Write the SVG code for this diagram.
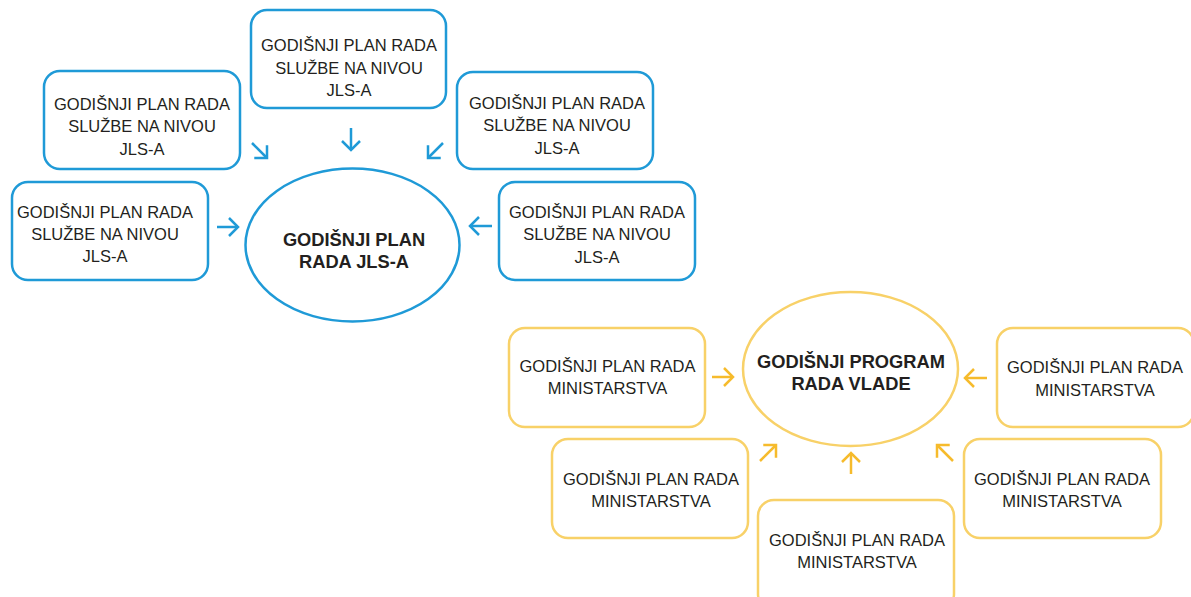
<svg xmlns="http://www.w3.org/2000/svg" width="1191" height="597" viewBox="0 0 1191 597">
  <defs>
    <style>
      .bg { fill: #ffffff; }
      .box-blue { fill: #ffffff; stroke: #1f9ad7; stroke-width: 2.5; }
      .box-yellow { fill: #ffffff; stroke: #f8d168; stroke-width: 2.5; }
      .lbl { font-family: "Liberation Sans", Arial, sans-serif; font-size: 16.5px; fill: #231f20; text-anchor: middle; }
      .hub { font-family: "Liberation Sans", Arial, sans-serif; font-size: 18.3px; font-weight: 700; fill: #231f20; text-anchor: middle; }
      .arr-blue { fill: none; stroke: #1f9ad7; stroke-width: 2.5; marker-end: url(#head-blue); }
      .arr-yellow { fill: none; stroke: #f6bb2c; stroke-width: 2.5; marker-end: url(#head-yellow); }
    </style>
    <marker id="head-blue" markerUnits="userSpaceOnUse" viewBox="-12 -12 16 24" refX="0" refY="0" markerWidth="16" markerHeight="24" orient="auto" overflow="visible">
      <path d="M-9,-9 L0,0 L-9,9" fill="none" stroke="#1f9ad7" stroke-width="2.5"/>
    </marker>
    <marker id="head-yellow" markerUnits="userSpaceOnUse" viewBox="-12 -12 16 24" refX="0" refY="0" markerWidth="16" markerHeight="24" orient="auto" overflow="visible">
      <path d="M-9,-9 L0,0 L-9,9" fill="none" stroke="#f6bb2c" stroke-width="2.5"/>
    </marker>
  </defs>

  <rect class="bg" x="0" y="0" width="1191" height="597"/>

  <!-- Local-government cluster -->
  <g id="jls-hub">
    <ellipse class="box-blue" cx="352.5" cy="245" rx="107" ry="76.5"/>
    <text class="hub" x="354" y="246">GODIŠNJI PLAN</text>
    <text class="hub" x="354" y="268">RADA JLS-A</text>
  </g>
  <g id="jls-top">
    <rect class="box-blue" x="251" y="10" width="195" height="98" rx="16"/>
    <text class="lbl" x="349" y="51">GODIŠNJI PLAN RADA</text>
    <text class="lbl" x="349" y="73.5">SLUŽBE NA NIVOU</text>
    <text class="lbl" x="349" y="96">JLS-A</text>
  </g>
  <g id="jls-upper-left">
    <rect class="box-blue" x="44" y="71" width="196" height="98" rx="16"/>
    <text class="lbl" x="142" y="109.5">GODIŠNJI PLAN RADA</text>
    <text class="lbl" x="142" y="132">SLUŽBE NA NIVOU</text>
    <text class="lbl" x="142" y="154.5">JLS-A</text>
  </g>
  <g id="jls-lower-left">
    <rect class="box-blue" x="12" y="182" width="196" height="98" rx="16"/>
    <text class="lbl" x="105" y="217.5">GODIŠNJI PLAN RADA</text>
    <text class="lbl" x="105" y="239.5">SLUŽBE NA NIVOU</text>
    <text class="lbl" x="105" y="262">JLS-A</text>
  </g>
  <g id="jls-upper-right">
    <rect class="box-blue" x="457" y="72" width="196" height="97" rx="16"/>
    <text class="lbl" x="557" y="108.5">GODIŠNJI PLAN RADA</text>
    <text class="lbl" x="557" y="131">SLUŽBE NA NIVOU</text>
    <text class="lbl" x="557" y="153.5">JLS-A</text>
  </g>
  <g id="jls-lower-right">
    <rect class="box-blue" x="499" y="182" width="196" height="98" rx="16"/>
    <text class="lbl" x="597" y="218">GODIŠNJI PLAN RADA</text>
    <text class="lbl" x="597" y="240">SLUŽBE NA NIVOU</text>
    <text class="lbl" x="597" y="262.5">JLS-A</text>
  </g>

  <!-- Government cluster -->
  <g id="vlada-hub">
    <ellipse class="box-yellow" cx="850.5" cy="369" rx="107.5" ry="77"/>
    <text class="hub" x="851" y="368">GODIŠNJI PROGRAM</text>
    <text class="hub" x="851" y="390">RADA VLADE</text>
  </g>
  <g id="min-left-top">
    <rect class="box-yellow" x="509" y="328" width="196" height="99" rx="16"/>
    <text class="lbl" x="607.5" y="372">GODIŠNJI PLAN RADA</text>
    <text class="lbl" x="607.5" y="394">MINISTARSTVA</text>
  </g>
  <g id="min-left-bottom">
    <rect class="box-yellow" x="552" y="439" width="196" height="99" rx="16"/>
    <text class="lbl" x="651" y="485">GODIŠNJI PLAN RADA</text>
    <text class="lbl" x="651" y="507">MINISTARSTVA</text>
  </g>
  <g id="min-bottom">
    <rect class="box-yellow" x="758" y="500" width="196" height="110" rx="16"/>
    <text class="lbl" x="857" y="546">GODIŠNJI PLAN RADA</text>
    <text class="lbl" x="857" y="568">MINISTARSTVA</text>
  </g>
  <g id="min-right-bottom">
    <rect class="box-yellow" x="964" y="439" width="197" height="99" rx="16"/>
    <text class="lbl" x="1062" y="485">GODIŠNJI PLAN RADA</text>
    <text class="lbl" x="1062" y="507">MINISTARSTVA</text>
  </g>
  <g id="min-right-top">
    <rect class="box-yellow" x="997" y="328" width="197" height="99" rx="16"/>
    <text class="lbl" x="1095" y="373">GODIŠNJI PLAN RADA</text>
    <text class="lbl" x="1095" y="395.5">MINISTARSTVA</text>
  </g>

  <!-- Connectors -->
  <g id="connectors">
    <path class="arr-blue" d="M217,227 L238,227"/>
    <path class="arr-blue" d="M252,143 L267,158"/>
    <path class="arr-blue" d="M351,128 L351,150"/>
    <path class="arr-blue" d="M443,143 L428,158"/>
    <path class="arr-blue" d="M492,226 L470,226"/>

    <path class="arr-yellow" d="M712,377 L733,377"/>
    <path class="arr-yellow" d="M760,461 L776,445"/>
    <path class="arr-yellow" d="M851,474 L851,453"/>
    <path class="arr-yellow" d="M953,461 L937,445"/>
    <path class="arr-yellow" d="M987,378 L965,378"/>
  </g>
</svg>
